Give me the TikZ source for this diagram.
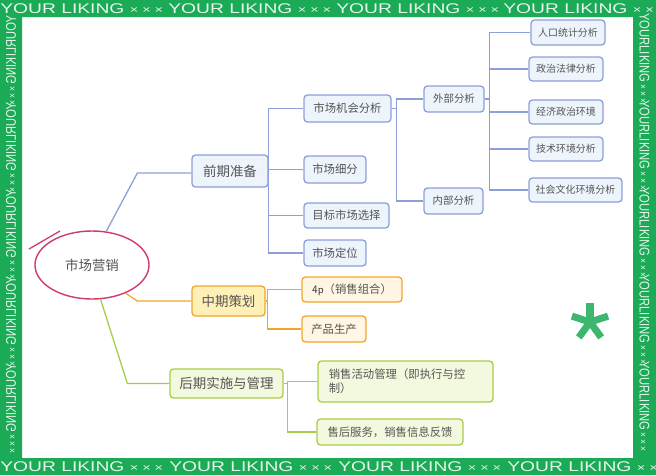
\documentclass[tikz,border=0pt]{standalone}
\usepackage{fontspec}
\usepackage{tikz}
\usetikzlibrary{arrows.meta,positioning,calc,shapes.geometric}
\newfontfamily\cjk{Noto Sans CJK SC}
\newfontfamily\bandfont{Liberation Sans}
\definecolor{band}     {HTML}{1BAA55}
\definecolor{periblue} {HTML}{8D9FD9}
\definecolor{paleblue} {HTML}{EDF4FC}
\definecolor{amber}    {HTML}{F4A42B}
\definecolor{cream}    {HTML}{FFF0B8}
\definecolor{palecream}{HTML}{FFF7E3}
\definecolor{lime}     {HTML}{A7CD48}
\definecolor{palelime} {HTML}{F3F9DE}
\definecolor{rosered}  {HTML}{D03A6E}
\definecolor{inkgray}  {HTML}{555555}

\begin{document}
\begin{tikzpicture}[x=0.03cm, y=0.03cm,
      box/.style={
        rounded corners=3pt, line width=1.1pt, inner sep=0pt,
        align=center, text=inkgray
      },
      bluebox/.style={box, draw=periblue, fill=paleblue},
      amberbox/.style={box, draw=amber, fill=palecream},
      limebox/.style={box, draw=lime, fill=palelime},
      lvone/.style={font=\cjk\fontsize{11.5}{13}\selectfont},
      lvtwo/.style={font=\cjk\fontsize{9.7}{12}\selectfont},
      lvthree/.style={font=\cjk\fontsize{8.9}{11}\selectfont},
      lvfour/.style={font=\cjk\fontsize{8.5}{10}\selectfont},
      blueline/.style={draw=periblue, line width=1.1pt},
      amberline/.style={draw=amber, line width=1.1pt},
      limeline/.style={draw=lime, line width=1.1pt},
      bandtxt/.style={text=white!88!band, inner sep=0pt,
        font=\bandfont\fontsize{12}{12}\selectfont}
    ]
      \useasboundingbox (0,0) rectangle (656,-475);

      % frame
      \fill[band, even odd rule] (0,0) rectangle (656,-475) (22,-17) rectangle (633,-458);
      \foreach \i in {0,...,4} {
        \node[bandtxt, anchor=west, rotate=-90, xscale=0.8] (rt\i) at (644.5,-13-87*\i)
          {YOURLIKING\,{\fontsize{9}{9}\selectfont× × ×}};
        \node[bandtxt, anchor=west, rotate=-90, yscale=-1, xscale=0.8] (lt\i) at (11,-15-87*\i)
          {YOURLIKING\,{\fontsize{9}{9}\selectfont× × ×}};
      }
      \foreach \i in {0,...,2} {
        \node[bandtxt, anchor=west, xscale=1.37] (tp\i) at (168*\i,-8.5)
          {YOUR LIKING {\fontsize{9}{9}\selectfont × × ×}};
        \node[bandtxt, anchor=west, xscale=1.37] (bt\i) at (169*\i,-466.5)
          {YOUR LIKING {\fontsize{9}{9}\selectfont × × ×}};
      }
      \node[bandtxt, anchor=west, xscale=1.37] (tp3) at (503,-8.5)
        {YOUR LIKING {\fontsize{9}{9}\selectfont × ×}};
      \node[bandtxt, anchor=west, xscale=1.37] (bt3) at (507,-466.5)
        {YOUR LIKING {\fontsize{9}{9}\selectfont × ×}};

      % root
      \node[ellipse, draw=rosered, line width=1.2pt, inner sep=0pt,
            minimum width=3.42cm, minimum height=2.04cm, text=inkgray,
            font=\cjk\fontsize{11.5}{13}\selectfont] (root) at (92,-265) {市场营销};
      \draw[rosered, line width=1.1pt] (29,-249) -- (60,-231);

      % first level
      \node[bluebox, lvone, minimum width=2.28cm, minimum height=0.96cm] (pre) at (230,-171) {前期准备};
      \node[box, draw=amber, fill=cream, lvone, minimum width=2.19cm, minimum height=0.9cm] (mid) at (228.5,-301) {中期策划};
      \node[box, draw=lime, fill=palelime, lvone, minimum width=3.39cm, minimum height=0.87cm] (late) at (226.5,-383.5) {后期实施与管理};

      % preparation
      \node[bluebox, lvtwo, minimum width=2.61cm, minimum height=0.81cm] (oppo) at (347.5,-108.5) {市场机会分析};
      \node[bluebox, lvtwo, minimum width=1.86cm, minimum height=0.81cm] (seg) at (335,-169.5) {市场细分};
      \node[bluebox, lvtwo, minimum width=2.55cm, minimum height=0.75cm] (target) at (346.5,-215.5) {目标市场选择};
      \node[bluebox, lvtwo, minimum width=1.86cm, minimum height=0.78cm] (posn) at (335,-253) {市场定位};

      \node[bluebox, lvthree, minimum width=1.8cm, minimum height=0.78cm] (ext) at (454,-99) {外部分析};
      \node[bluebox, lvthree, minimum width=1.77cm, minimum height=0.78cm] (int) at (453.5,-201) {内部分析};

      \node[bluebox, lvfour, minimum width=2.22cm, minimum height=0.75cm] (demo) at (568,-32.5) {人口统计分析};
      \node[bluebox, lvfour, minimum width=2.22cm, minimum height=0.72cm] (law) at (566,-69) {政治法律分析};
      \node[bluebox, lvfour, minimum width=2.22cm, minimum height=0.72cm] (econ) at (566,-112) {经济政治环境};
      \node[bluebox, lvfour, minimum width=2.22cm, minimum height=0.72cm] (tech) at (566,-149) {技术环境分析};
      \node[bluebox, lvfour, minimum width=2.79cm, minimum height=0.72cm] (soc) at (575.5,-190) {社会文化环境分析};

      % planning
      \node[amberbox, lvtwo, minimum width=3.0cm, minimum height=0.75cm] (mix) at (352,-289.5)
        {{\sffamily\color{black!80}4p}（销售组合）};
      \node[amberbox, lvtwo, minimum width=1.92cm, minimum height=0.78cm] (prod) at (334,-329) {产品生产};

      % execution
      \node[limebox, lvtwo, minimum width=5.25cm, minimum height=1.23cm, align=left] (act) at (405.5,-381.5)
        {\begin{minipage}{4.6cm}销售活动管理（即执行与控\\制）\end{minipage}};
      \node[limebox, lvtwo, minimum width=4.38cm, minimum height=0.78cm] (svc) at (390,-432) {售后服务，销售信息反馈};

      % connectors
      \draw[blueline] (root.67) -- ($(pre.west)+(-54,-2)$) -- ($(pre.west)+(0,-2)$);
      \draw[amberline] (root.-40) -- ($(mid.west)+(-54,0)$) -- (mid.west);
      \draw[limeline] (root.-76) -- ($(late.west)+(-42,0)$) -- (late.west);

      \foreach \c in {oppo,seg,target,posn}
        \draw[blueline] (pre.east) |- (\c.west);
      \foreach \c in {ext,int}
        \draw[blueline] (oppo.east) -- ++(5,0) |- (\c.west);
      \foreach \c in {demo,law,econ,tech,soc}
        \draw[blueline] (ext.east) -- ++(5,0) |- (\c.west);
      \foreach \c in {mix,prod}
        \draw[amberline] (mid.east) -- ++(2,0) |- (\c.west);
      \foreach \c in {act,svc}
        \draw[limeline] (late.east) -- ++(4,0) |- (\c.west);

      % asterisk
      \foreach \a in {90,162,...,378}
        \draw[band!85!white, line width=6pt] (590,-322) -- ++(\a:19);
    \end{tikzpicture}
\end{document}
